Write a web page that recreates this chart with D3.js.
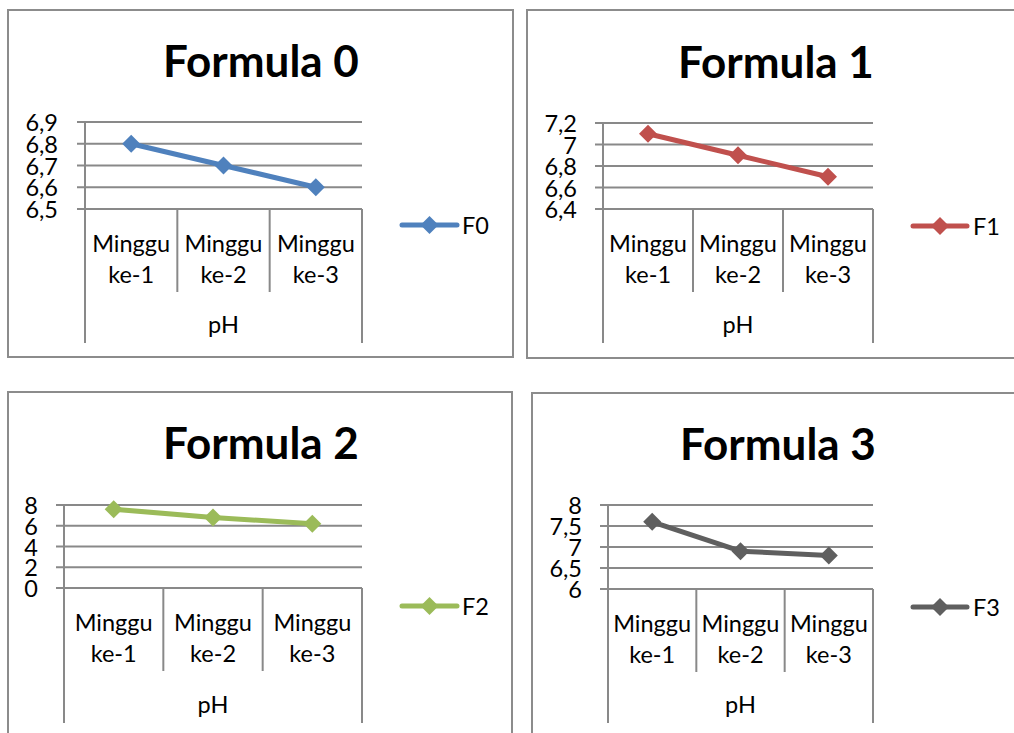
<!DOCTYPE html>
<html>
<head>
<meta charset="utf-8">
<script src="https://cdn.jsdelivr.net/npm/d3@7/dist/d3.min.js"></script>
<style>
  html, body { margin: 0; padding: 0; background: #ffffff; }
  svg { display: block; }
  text { font-family: Lato, "Open Sans", "Noto Sans", sans-serif; fill: #000; }
</style>
</head>
<body>
<svg id="chart" width="1014" height="733"></svg>
<script>
// ---------------- data ----------------
const categories = ["Minggu ke-1", "Minggu ke-2", "Minggu ke-3"];
const groupLabel = "pH";
const titles = ["Formula 0", "Formula 1", "Formula 2", "Formula 3"];
const seriesNames = ["F0", "F1", "F2", "F3"];
const valuesF0 = [6.8, 6.7, 6.6];
const valuesF1 = [7.1, 6.9, 6.7];
const valuesF2 = [7.6, 6.8, 6.2];
const valuesF3 = [7.6, 6.9, 6.8];
const ticksF0 = [6.5, 6.6, 6.7, 6.8, 6.9];
const ticksF1 = [6.4, 6.6, 6.8, 7, 7.2];
const ticksF2 = [0, 2, 4, 6, 8];
const ticksF3 = [6, 6.5, 7, 7.5, 8];
const colors = ["#4F81BD", "#C0504D", "#9BBB59", "#5F5F5F"];

// ---------------- layout ----------------
const layouts = [
  { box: [8, 10, 505, 347], x0: 85, x1: 362, yTop: 122, yBot: 209, labR: 58, tcx: 261, ty: 77, lg: [402, 457, 225, 462], bottom: 343 },
  { box: [527, 10, 520, 348], x0: 603, x1: 873, yTop: 123, yBot: 209, labR: 577, tcx: 776, ty: 78, lg: [913, 967, 226, 973], bottom: 343 },
  { box: [8, 392, 504, 400], x0: 64, x1: 362, yTop: 505, yBot: 588, labR: 38, tcx: 261, ty: 459, lg: [402, 457, 606, 462], bottom: 723 },
  { box: [532, 393, 520, 400], x0: 608, x1: 873, yTop: 505, yBot: 589, labR: 582, tcx: 778, ty: 460, lg: [913, 967, 607, 973], bottom: 723 }
];
const allValues = [valuesF0, valuesF1, valuesF2, valuesF3];
const allTicks = [ticksF0, ticksF1, ticksF2, ticksF3];

const svg = d3.select("#chart");
const gridColor = "#898989";
const fs = 23.5;
const fmt = v => String(v).replace(".", ",");

function diamond(g, cx, cy, r, color) {
  g.append("path")
    .attr("d", `M${cx},${cy - r}L${cx + r},${cy}L${cx},${cy + r}L${cx - r},${cy}Z`)
    .attr("fill", color);
}

layouts.forEach((L, i) => {
  const g = svg.append("g");
  const vals = allValues[i], ticks = allTicks[i], color = colors[i];

  // frame
  g.append("rect").attr("x", L.box[0]).attr("y", L.box[1])
    .attr("width", L.box[2]).attr("height", L.box[3])
    .attr("fill", "none").attr("stroke", "#8c8c8c").attr("stroke-width", 2);

  // title
  g.append("text").attr("x", L.tcx).attr("y", L.ty)
    .attr("text-anchor", "middle").attr("font-weight", 700)
    .attr("font-size", 44).text(titles[i]);

  const x = d3.scaleBand().domain(categories).range([L.x0, L.x1]).padding(0);
  const y = d3.scaleLinear().domain([d3.min(ticks), d3.max(ticks)]).range([L.yBot, L.yTop]);

  // gridlines + tick marks + labels
  ticks.forEach(t => {
    g.append("line").attr("x1", L.x0 - 8).attr("x2", L.x1)
      .attr("y1", y(t)).attr("y2", y(t))
      .attr("stroke", gridColor).attr("stroke-width", 2);
    g.append("text").attr("x", L.labR).attr("y", y(t))
      .attr("text-anchor", "end").attr("dominant-baseline", "central")
      .attr("font-size", fs).text(fmt(t));
  });

  // y axis line
  g.append("line").attr("x1", L.x0).attr("x2", L.x0)
    .attr("y1", L.yTop).attr("y2", L.bottom)
    .attr("stroke", gridColor).attr("stroke-width", 2);
  // right outer line of the category box
  g.append("line").attr("x1", L.x1).attr("x2", L.x1)
    .attr("y1", L.yBot).attr("y2", L.bottom)
    .attr("stroke", gridColor).attr("stroke-width", 2);
  // category dividers
  categories.slice(1).forEach(c => {
    g.append("line").attr("x1", x(c)).attr("x2", x(c))
      .attr("y1", L.yBot).attr("y2", L.yBot + 83)
      .attr("stroke", gridColor).attr("stroke-width", 2);
  });
  // category labels (two lines)
  categories.forEach(c => {
    const parts = c.split(" ");
    const cx = x(c) + x.bandwidth() / 2;
    g.append("text").attr("x", cx).attr("y", L.yBot + 43)
      .attr("text-anchor", "middle").attr("font-size", fs).text(parts[0]);
    g.append("text").attr("x", cx).attr("y", L.yBot + 74)
      .attr("text-anchor", "middle").attr("font-size", fs).text(parts[1]);
  });
  // group label
  g.append("text").attr("x", (L.x0 + L.x1) / 2).attr("y", L.bottom - 10)
    .attr("text-anchor", "middle").attr("font-size", fs).text(groupLabel);

  // series line
  const line = d3.line().x((d, k) => x(categories[k]) + x.bandwidth() / 2).y(d => y(d));
  g.append("path").datum(vals).attr("d", line)
    .attr("fill", "none").attr("stroke", color).attr("stroke-width", 5)
    .attr("stroke-linejoin", "round").attr("stroke-linecap", "round");
  vals.forEach((v, k) => diamond(g, x(categories[k]) + x.bandwidth() / 2, y(v), 9, color));

  // legend
  g.append("line").attr("x1", L.lg[0]).attr("x2", L.lg[1])
    .attr("y1", L.lg[2]).attr("y2", L.lg[2])
    .attr("stroke", color).attr("stroke-width", 5).attr("stroke-linecap", "round");
  diamond(g, (L.lg[0] + L.lg[1]) / 2, L.lg[2], 9, color);
  g.append("text").attr("x", L.lg[3]).attr("y", L.lg[2])
    .attr("dominant-baseline", "central").attr("font-size", fs).text(seriesNames[i]);
});
</script>
</body>
</html>
